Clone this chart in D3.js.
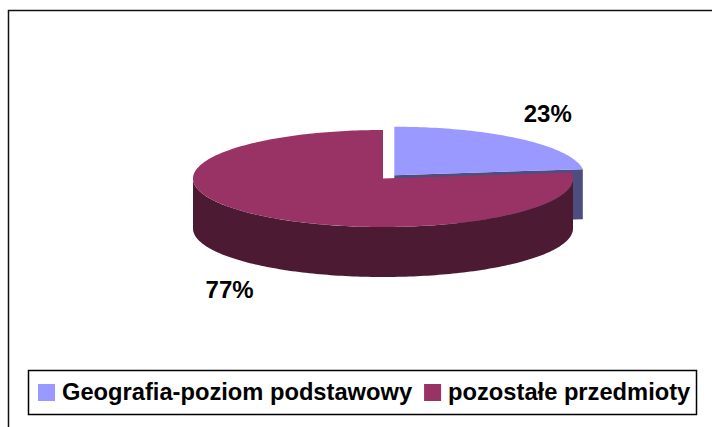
<!DOCTYPE html>
<meta charset="utf-8">
<style>
  body, html { margin: 0; padding: 0; background: #fff; }
  text { font-family: Arial, "Liberation Sans", sans-serif; font-weight: bold; fill: #000; }
</style>
<body>
<svg width="712" height="427"></svg>
<script src="https://cdn.jsdelivr.net/npm/d3@7"></script>
<script>
// data
var categories = ["Geografia-poziom podstawowy", "pozostałe przedmioty"];
var values = [23, 77];
var labels = ["23%", "77%"];
var topColors = ["#9999FF", "#993366"];
var sideColors = ["#4D4D80", "#4D1A33"];
var explode = [0.09, 0];

var svg = d3.select("svg");

// outer frame (only top and left edges fall inside the picture)
svg.append("rect")
    .attr("x", 8.5).attr("y", 10.5)
    .attr("width", 900).attr("height", 600)
    .attr("fill", "none")
    .attr("stroke", "#111")
    .attr("stroke-width", 1.5);

var cx = 383, cy = 178.5, rx = 190, ry = 48.5, depth = 50;

var arcs = d3.pie().sort(null).value(function(d) { return d; })(values);

arcs.forEach(function(d, i) {
    var mid = (d.startAngle + d.endAngle) / 2;
    d.ox = explode[i] * rx * Math.sin(mid);
    d.oy = -explode[i] * ry * Math.cos(mid);
    d.i = i;
});

function pt(d, a, down) {
    return [cx + d.ox + rx * Math.sin(a), cy + d.oy - ry * Math.cos(a) + (down || 0)];
}

function arcPts(d, a0, a1, down) {
    var n = Math.max(2, Math.ceil((a1 - a0) / 0.02));
    var pts = [];
    for (var k = 0; k <= n; k++) pts.push(pt(d, a0 + (a1 - a0) * k / n, down));
    return pts;
}

var line = d3.line();
var pie = svg.append("g");

// cut faces that turn toward the viewer
arcs.forEach(function(d) {
    var c = [cx + d.ox, cy + d.oy];
    [[d.endAngle, Math.sin(d.endAngle) > 1e-6], [d.startAngle, Math.sin(d.startAngle) < -1e-6]]
        .forEach(function(f) {
            if (!f[1]) return;
            var p = pt(d, f[0]);
            pie.append("path")
                .attr("d", line([c, p, [p[0], p[1] + depth], [c[0], c[1] + depth]]) + "Z")
                .attr("fill", sideColors[d.i]);
        });
});

// outer rims, front half only
arcs.forEach(function(d) {
    var a0 = Math.max(d.startAngle, Math.PI / 2),
        a1 = Math.min(d.endAngle, Math.PI * 3 / 2);
    if (a1 <= a0) return;
    var pts = arcPts(d, a0, a1, 0).concat(arcPts(d, a0, a1, depth).reverse());
    pie.append("path")
        .attr("d", line(pts) + "Z")
        .attr("fill", sideColors[d.i]);
});

// tops
arcs.forEach(function(d) {
    var pts = [[cx + d.ox, cy + d.oy]].concat(arcPts(d, d.startAngle, d.endAngle, 0));
    pie.append("path")
        .attr("d", line(pts) + "Z")
        .attr("fill", topColors[d.i]);
});

// percentage labels outside the rim
arcs.forEach(function(d) {
    var mid = (d.startAngle + d.endAngle) / 2;
    var lower = -Math.cos(mid) > 0;
    var p = pt(d, mid, lower ? depth : 0);
    svg.append("text")
        .attr("x", p[0] + 42 * Math.sin(mid))
        .attr("y", p[1] - 33 * Math.cos(mid))
        .attr("dy", "0.35em")
        .attr("text-anchor", "middle")
        .style("font-size", "24px")
        .text(labels[d.i]);
});

// legend
svg.append("rect")
    .attr("x", 28.5).attr("y", 370.5)
    .attr("width", 668).attr("height", 44)
    .attr("fill", "#fff")
    .attr("stroke", "#000")
    .attr("stroke-width", 1.5);

var lx = 38;
categories.forEach(function(name, i) {
    svg.append("rect")
        .attr("x", lx).attr("y", 384)
        .attr("width", 17).attr("height", 17)
        .attr("fill", topColors[i]);
    var t = svg.append("text")
        .attr("x", lx + 24).attr("y", 400)
        .style("font-size", "23.7px")
        .text(name);
    lx += 24 + t.node().getComputedTextLength() + 12;
});
</script>
</body>
